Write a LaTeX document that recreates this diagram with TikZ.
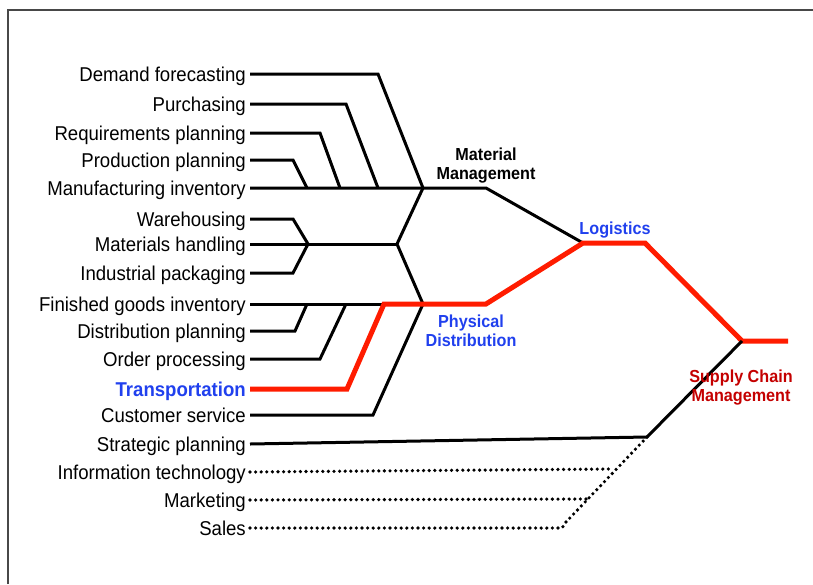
\documentclass[tikz,border=0pt]{standalone}
\usepackage{fontspec}
\setmainfont{Liberation Sans}[FakeStretch=0.93]
\definecolor{lblue}{RGB}{32,64,238}
\definecolor{lred}{RGB}{255,28,0}
\definecolor{scmred}{RGB}{196,0,0}
\definecolor{framegray}{RGB}{72,72,72}
\begin{document}
\begin{tikzpicture}[x=1pt,y=-1pt,
  item/.style={anchor=east, inner xsep=4pt, inner ysep=0pt,
    text height=15pt, text depth=0pt, font=\fontsize{20}{22}\selectfont},
  wire/.style={line width=3pt},
  redwire/.style={line width=5pt, draw=lred},
  dotwire/.style={line width=3.6pt, line cap=round, dash pattern=on 0pt off 5.6pt},
  hub/.style={font=\bfseries\fontsize{17.4}{19}\selectfont, align=center, inner sep=0pt}]
\useasboundingbox (0,0) rectangle (813,584);

% frame
\draw[framegray, line width=2pt] (7.5,584) -- (7.5,9.5) -- (813,9.5);

% activity labels
\node[item] (l1)  at (250,74)  {Demand forecasting};
\node[item] (l2)  at (250,104) {Purchasing};
\node[item] (l3)  at (250,133) {Requirements planning};
\node[item] (l4)  at (250,160) {Production planning};
\node[item] (l5)  at (250,188) {Manufacturing inventory};
\node[item] (l6)  at (250,219) {Warehousing};
\node[item] (l7)  at (250,244) {Materials handling};
\node[item] (l8)  at (250,273) {Industrial packaging};
\node[item] (l9)  at (250,304) {Finished goods inventory};
\node[item] (l10) at (250,331) {Distribution planning};
\node[item] (l11) at (250,359) {Order processing};
\node[item, text=lblue, font=\bfseries\fontsize{20}{22}\selectfont] (l12) at (250,389) {Transportation};
\node[item] (l13) at (250,415) {Customer service};
\node[item] (l14) at (250,444) {Strategic planning};
\node[item] (l15) at (250,472) {Information technology};
\node[item] (l16) at (250,500) {Marketing};
\node[item] (l17) at (250,528) {Sales};

% junctions
\coordinate (jM)  at (423,188);
\coordinate (mmE) at (486,188);
\coordinate (jH)  at (397,244);
\coordinate (jP)  at (423,304);
\coordinate (jT)  at (384,304);
\coordinate (pdE) at (486,304);
\coordinate (jL)  at (583,243);
\coordinate (lgE) at (645,243);
\coordinate (jC)  at (742,341);
\coordinate (scE) at (788,341);
\coordinate (jS)  at (647,437);
\coordinate (jD)  at (566,522);

% material management
\draw[wire] (l1.east) -- (378,74) -- (jM);
\draw[wire] (l2.east) -- (346,104) -- (378,188);
\draw[wire] (l3.east) -- (320,133) -- (340,188);
\draw[wire] (l4.east) -- (293,160) -- (307,188);
\draw[wire] (l5.east) -- (jM) -- (mmE) -- (jL);

% materials handling group
\draw[wire] (l6.east) -- (293,219) -- (308,244);
\draw[wire] (l8.east) -- (293,273) -- (308,244);
\draw[wire] (l7.east) -- (jH);
\draw[wire] (jM) -- (jH) -- (jP);

% physical distribution
\draw[wire] (l9.east) -- (jT);
\draw[wire] (l10.east) -- (295,331) -- (307,304);
\draw[wire] (l11.east) -- (320,359) -- (346,304);
\draw[wire] (l13.east) -- (373,415) -- (jP);
\draw[redwire] (l12.east) -- (347,389) -- (jT) -- (pdE) -- (jL) -- (lgE) -- (jC) -- (scE);

% supply chain management
\draw[wire] (l14.east) -- (jS) -- (jC);
\draw[dotwire] (jS) -- (jD);
\draw[dotwire] (l15.east) -- (611,469);
\draw[dotwire] (l16.east) -- (586,499);
\draw[dotwire] (l17.east) -- (562,528) -- (jD);

% stage names
\node[hub] (mm) at (486,166) {Material\\Management};
\node[hub, text=lblue] (lg) at (615,230) {Logistics};
\node[hub, text=lblue] (pd) at (471,331) {Physical\\Distribution};
\node[hub, text=scmred] (sc) at (741,388) {Supply Chain\\Management};
\end{tikzpicture}
\end{document}
